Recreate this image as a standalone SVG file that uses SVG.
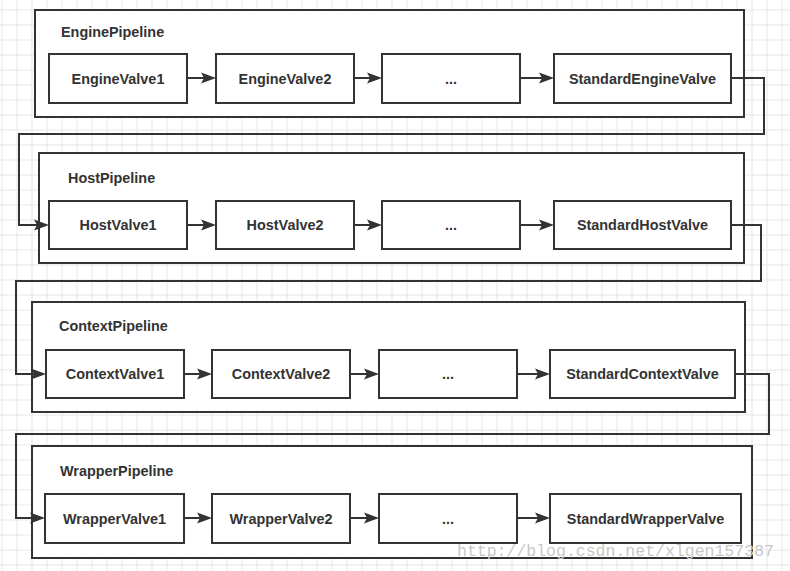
<svg xmlns="http://www.w3.org/2000/svg" width="790" height="571" viewBox="0 0 790 571">
<defs>
<pattern id="grid" patternUnits="userSpaceOnUse" x="1.5" y="9.5" width="15" height="15">
<path d="M0 0.5 H15 M0.5 0 V15" fill="none" stroke="#e6e6e6" stroke-width="1"/>
</pattern>
<marker id="arr" markerUnits="userSpaceOnUse" markerWidth="16" markerHeight="12" refX="12" refY="6" orient="auto">
<path d="M0,0.5 L15,6 L0,11.5 L3,6 Z" fill="#333"/>
</marker>
<style>
.pipe{fill:#fff;stroke:#333;stroke-width:2}
.valve{fill:#fff;stroke:#333;stroke-width:2}
.lbl{font-family:"Liberation Sans",Arial,sans-serif;font-weight:bold;font-size:14.4px;fill:#333}
.vt{font-family:"Liberation Sans",Arial,sans-serif;font-weight:bold;font-size:14.4px;fill:#333;text-anchor:middle}
.con{fill:none;stroke:#333;stroke-width:2}
.wm{font-family:"Liberation Mono","Courier New",monospace;font-size:16.5px;fill:#c8c8c8}
</style>
</defs>
<rect width="790" height="571" fill="#fff"/>
<rect width="790" height="571" fill="url(#grid)"/>

<g id="EnginePipeline">
<rect class="pipe" x="35" y="10" width="709" height="107"/>
<text class="lbl" x="61" y="37">EnginePipeline</text>
</g>
<g id="EngineValve1"><rect class="valve" x="49" y="54" width="138" height="49"/><text class="vt" x="118" y="84">EngineValve1</text></g>
<g id="EngineValve2"><rect class="valve" x="216" y="54" width="138" height="49"/><text class="vt" x="285" y="84">EngineValve2</text></g>
<g id="EngineDots"><rect class="valve" x="382" y="54" width="138" height="49"/><text class="vt" x="451" y="84">...</text></g>
<g id="StandardEngineValve"><rect class="valve" x="554" y="54" width="177" height="49"/><text class="vt" x="642.5" y="84">StandardEngineValve</text></g>

<g id="HostPipeline">
<rect class="pipe" x="39" y="153" width="705" height="110"/>
<text class="lbl" x="68" y="183">HostPipeline</text>
</g>
<g id="HostValve1"><rect class="valve" x="49" y="201" width="138" height="48"/><text class="vt" x="118" y="230">HostValve1</text></g>
<g id="HostValve2"><rect class="valve" x="216" y="201" width="138" height="48"/><text class="vt" x="285" y="230">HostValve2</text></g>
<g id="HostDots"><rect class="valve" x="382" y="201" width="138" height="48"/><text class="vt" x="451" y="230">...</text></g>
<g id="StandardHostValve"><rect class="valve" x="554" y="201" width="177" height="48"/><text class="vt" x="642.5" y="230">StandardHostValve</text></g>

<g id="ContextPipeline">
<rect class="pipe" x="32" y="302" width="713" height="110"/>
<text class="lbl" x="59" y="331">ContextPipeline</text>
</g>
<g id="ContextValve1"><rect class="valve" x="46" y="350" width="138" height="48"/><text class="vt" x="115" y="379">ContextValve1</text></g>
<g id="ContextValve2"><rect class="valve" x="212" y="350" width="138" height="48"/><text class="vt" x="281" y="379">ContextValve2</text></g>
<g id="ContextDots"><rect class="valve" x="379" y="350" width="138" height="48"/><text class="vt" x="448" y="379">...</text></g>
<g id="StandardContextValve"><rect class="valve" x="550" y="350" width="185" height="48"/><text class="vt" x="642.5" y="379">StandardContextValve</text></g>

<g id="WrapperPipeline">
<rect class="pipe" x="32" y="446" width="720" height="112"/>
<text class="lbl" x="60" y="476">WrapperPipeline</text>
</g>
<g id="WrapperValve1"><rect class="valve" x="45" y="494" width="139" height="49"/><text class="vt" x="114.5" y="524">WrapperValve1</text></g>
<g id="WrapperValve2"><rect class="valve" x="212" y="494" width="138" height="49"/><text class="vt" x="281" y="524">WrapperValve2</text></g>
<g id="WrapperDots"><rect class="valve" x="379" y="494" width="138" height="49"/><text class="vt" x="448" y="524">...</text></g>
<g id="StandardWrapperValve"><rect class="valve" x="550" y="494" width="191" height="49"/><text class="vt" x="645.5" y="524">StandardWrapperValve</text></g>

<g id="connectors">
<path class="con" marker-end="url(#arr)" d="M187 78 H213"/>
<path class="con" marker-end="url(#arr)" d="M354 78 H379"/>
<path class="con" marker-end="url(#arr)" d="M520 78 H551"/>
<path class="con" marker-end="url(#arr)" d="M731 78 H764 V134 H19 V225 H46"/>
<path class="con" marker-end="url(#arr)" d="M187 225 H213"/>
<path class="con" marker-end="url(#arr)" d="M354 225 H379"/>
<path class="con" marker-end="url(#arr)" d="M520 225 H551"/>
<path class="con" marker-end="url(#arr)" d="M731 225 H761 V281 H16 V374 H43"/>
<path class="con" marker-end="url(#arr)" d="M184 374 H209"/>
<path class="con" marker-end="url(#arr)" d="M350 374 H376"/>
<path class="con" marker-end="url(#arr)" d="M517 374 H547"/>
<path class="con" marker-end="url(#arr)" d="M735 374 H769 V434 H16 V518 H42"/>
<path class="con" marker-end="url(#arr)" d="M184 518 H209"/>
<path class="con" marker-end="url(#arr)" d="M350 518 H376"/>
<path class="con" marker-end="url(#arr)" d="M517 518 H547"/>
</g>

<text class="wm" x="457" y="556">http://blog.csdn.net/xlgen157387</text>
</svg>
